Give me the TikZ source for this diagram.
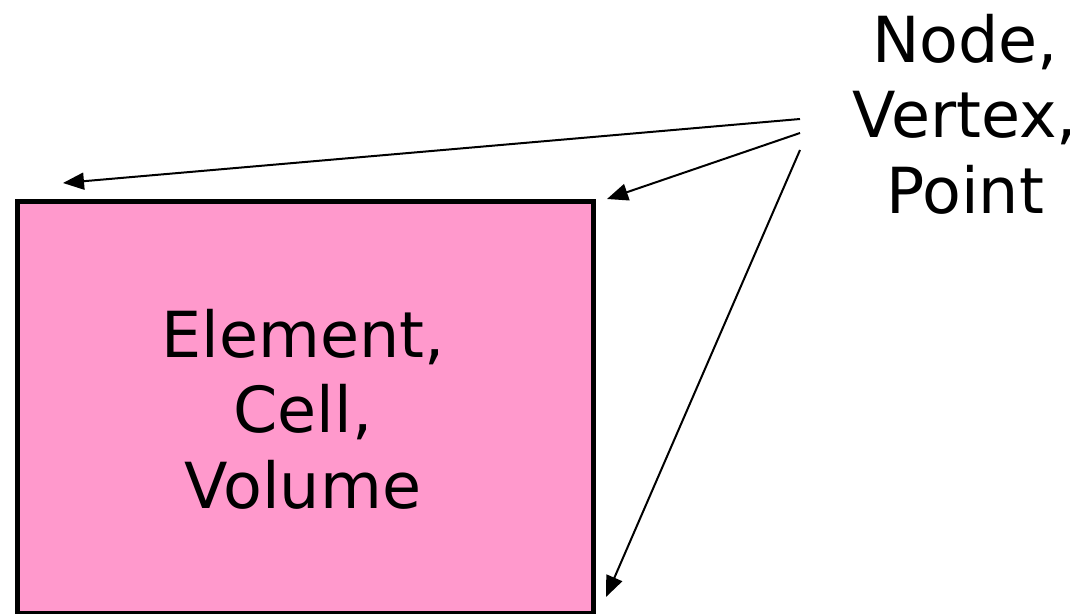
\documentclass[tikz,border=0pt]{standalone}
\usepackage{fontspec}
\setmainfont{DejaVu Sans}
\usepackage{xcolor}
\usetikzlibrary{arrows.meta,positioning}
\definecolor{cellpink}{HTML}{FF99CC}

\begin{document}
\begin{tikzpicture}[x=1pt,y=-1pt,
  lbl/.style={align=center,font=\fontsize{63.5}{75.5}\selectfont},
  ptr/.style={line width=2pt,-{Triangle[length=21pt,width=17pt]}}]
  \useasboundingbox (0,0) rectangle (1084,613);
  % the cell
  \node[draw,line width=5pt,fill=cellpink,minimum width=576pt,minimum height=412.5pt,
        inner sep=0pt,anchor=north west] (cell) at (14.5,198.5) {};
  \node[lbl] (celltxt) at (303,409) {Element,\\Cell,\\Volume};
  % the nodes
  \node[lbl] (pts) at (965,114) {Node,\\Vertex,\\Point};
  \coordinate (s1) at (800,119);
  \coordinate (s2) at (800,133);
  \coordinate (s3) at (800,150);
  \coordinate (tl) at (63,183);
  \coordinate (tr) at (607,199);
  \coordinate (br) at (606,597);
  \draw[ptr] (s1) -- (tl);
  \draw[ptr] (s2) -- (tr);
  \draw[ptr] (s3) -- (br);
\end{tikzpicture}
\end{document}
